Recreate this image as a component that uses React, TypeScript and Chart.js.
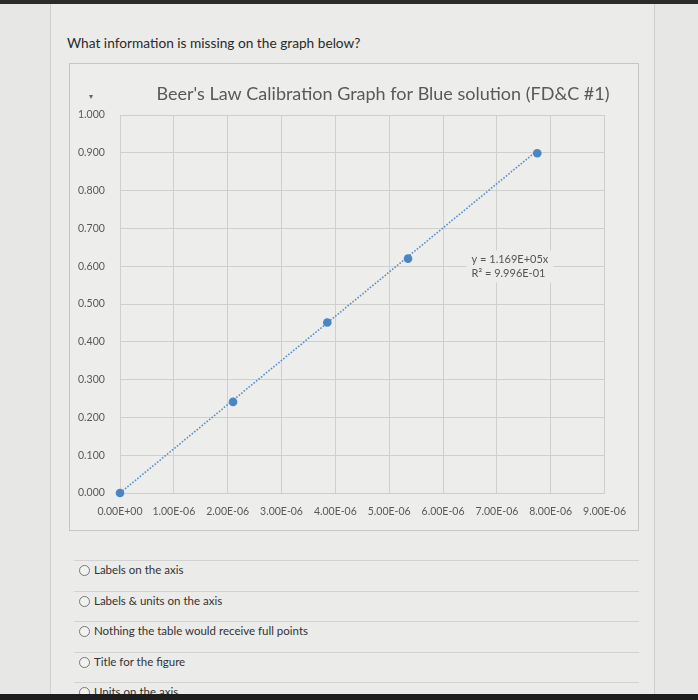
import { useEffect, useRef } from "react";
import Chart from "chart.js/auto";

// calibration readings (mol/L vs absorbance)
const concentration = [0, 2.1e-6, 3.85e-6, 5.35e-6, 7.75e-6];
const absorbance = [0, 0.241, 0.451, 0.62, 0.899];
const trendSlope = 1.169e5;
const trendText = ["y = 1.169E+05x", "R² = 9.996E-01"];
const chartTitle = "Beer's Law Calibration Graph for Blue solution (FD&C #1)";
const xMax = 9e-6;
const xStep = 1e-6;
const yMax = 1;
const yStep = 0.1;

const question = "What information is missing on the graph below?";
const choices = [
  "Labels on the axis",
  "Labels & units on the axis",
  "Nothing the table would receive full points",
  "Title for the figure",
  "Units on the axis",
];

const FONT = "Lato, 'Open Sans', sans-serif";
const CHART_BG = "#ededeb";

function sci(v: number) {
  const [m, e] = v.toExponential(2).split("e");
  const n = Math.abs(parseInt(e, 10));
  return `${m}E${e.startsWith("-") ? "-" : "+"}${String(n).padStart(2, "0")}`;
}

const overlay = {
  id: "overlay",
  afterDatasetsDraw(chart: Chart) {
    const { ctx, scales } = chart;
    const x = scales.x.getPixelForValue(6.53e-6);
    const y = scales.y.getPixelForValue(0.618);
    ctx.save();
    ctx.font = `11px ${FONT}`;
    const w = Math.max(...trendText.map((t) => ctx.measureText(t).width));
    ctx.fillStyle = CHART_BG;
    ctx.fillRect(x - 5, y - 9, w + 10, 32);
    ctx.fillStyle = "#555";
    ctx.textAlign = "left";
    ctx.textBaseline = "middle";
    trendText.forEach((t, i) => ctx.fillText(t, x, y + i * 14));
    ctx.restore();
  },
  afterDraw(chart: Chart) {
    const { ctx } = chart;
    ctx.save();
    ctx.font = `18px ${FONT}`;
    ctx.fillStyle = "#595959";
    ctx.textAlign = "center";
    ctx.textBaseline = "middle";
    ctx.fillText(chartTitle, 313, 30);
    ctx.restore();
  },
};

function CalibrationChart() {
  const canvasRef = useRef<HTMLCanvasElement | null>(null);
  const chartRef = useRef<Chart | null>(null);

  useEffect(() => {
    if (!canvasRef.current) return;
    const ctx = canvasRef.current.getContext("2d");
    if (!ctx) return;
    if (chartRef.current) chartRef.current.destroy();

    const last = concentration[concentration.length - 1];

    chartRef.current = new Chart(ctx, {
      type: "scatter",
      data: {
        datasets: [
          {
            data: concentration.map((c, i) => ({ x: c, y: absorbance[i] })),
            backgroundColor: "#4a86c4",
            borderWidth: 0,
            pointRadius: 4.3,
            clip: false,
            order: 1,
          },
          {
            type: "line",
            data: [
              { x: 0, y: 0 },
              { x: last, y: trendSlope * last },
            ],
            borderColor: "#5b8fc9",
            borderWidth: 1.6,
            borderDash: [1.6, 1.6],
            pointRadius: 0,
            fill: false,
            order: 2,
          },
        ],
      },
      options: {
        responsive: false,
        animation: false,
        layout: { padding: { left: 8, top: 51, right: 27, bottom: 0 } },
        plugins: {
          legend: { display: false },
          tooltip: { enabled: false },
          title: { display: false },
        },
        scales: {
          x: {
            type: "linear",
            min: 0,
            max: xMax,
            afterFit: (s: any) => {
              s.height = 37;
            },
            grid: { color: "#cfcfcd", drawTicks: false },
            border: { color: "#cfcfcd" },
            ticks: {
              stepSize: xStep,
              autoSkip: false,
              maxRotation: 0,
              padding: 12,
              color: "#595959",
              font: { family: FONT, size: 10.5 },
              callback: (v: any) => sci(Number(v)),
            },
          },
          y: {
            min: 0,
            max: yMax,
            afterFit: (s: any) => {
              s.width = 42;
            },
            grid: { color: "#cfcfcd", drawTicks: false },
            border: { color: "#cfcfcd" },
            ticks: {
              stepSize: yStep,
              crossAlign: "far",
              color: "#595959",
              font: { family: FONT, size: 10.5 },
              callback: (v: any) => Number(v).toFixed(3),
            },
          },
        },
      },
      plugins: [overlay],
    });

    return () => chartRef.current?.destroy();
  }, []);

  return <canvas ref={canvasRef} width={568} height={466} />;
}

export default function App() {
  return (
    <div
      style={{
        position: "relative",
        width: 698,
        height: 700,
        background: "#e7e7e5",
        overflow: "hidden",
        fontFamily: FONT,
      }}
    >
      <style>{"body{margin:0}"}</style>
      <div style={{ position: "absolute", left: 0, top: 0, width: 698, height: 4, background: "#2b2b2b" }} />
      <div
        style={{
          position: "absolute",
          left: 50,
          top: 4,
          width: 603,
          height: 700,
          background: "#ebebe9",
          borderLeft: "1px solid #cfcfcd",
          borderRight: "1px solid #cfcfcd",
        }}
      />
      <div style={{ position: "absolute", left: 67, top: 34, fontSize: 13.7, color: "#2a2a2a" }}>{question}</div>
      <div
        style={{
          position: "absolute",
          left: 69,
          top: 63,
          width: 568,
          height: 466,
          border: "1px solid #c6c6c4",
          background: CHART_BG,
        }}
      >
        <CalibrationChart />
        <div style={{ position: "absolute", left: 19, top: 27, fontSize: 8, color: "#666" }}>▾</div>
      </div>
      {choices.map((c, i) => (
        <div key={c}>
          <div
            style={{
              position: "absolute",
              left: 74,
              top: 560 + i * 30.5,
              width: 565,
              height: 0,
              borderTop: "1px solid #d2d2d0",
            }}
          />
          <div
            style={{
              position: "absolute",
              left: 79,
              top: 565 + i * 30.5,
              width: 9,
              height: 9,
              borderRadius: "50%",
              border: "1px solid #777",
              background: "#f2f2f0",
            }}
          />
          <div style={{ position: "absolute", left: 94, top: 563 + i * 30.5, fontSize: 11.5, color: "#333" }}>{c}</div>
        </div>
      ))}
      <div style={{ position: "absolute", left: 0, top: 694, width: 698, height: 6, background: "#1e1e1e" }} />
    </div>
  );
}
